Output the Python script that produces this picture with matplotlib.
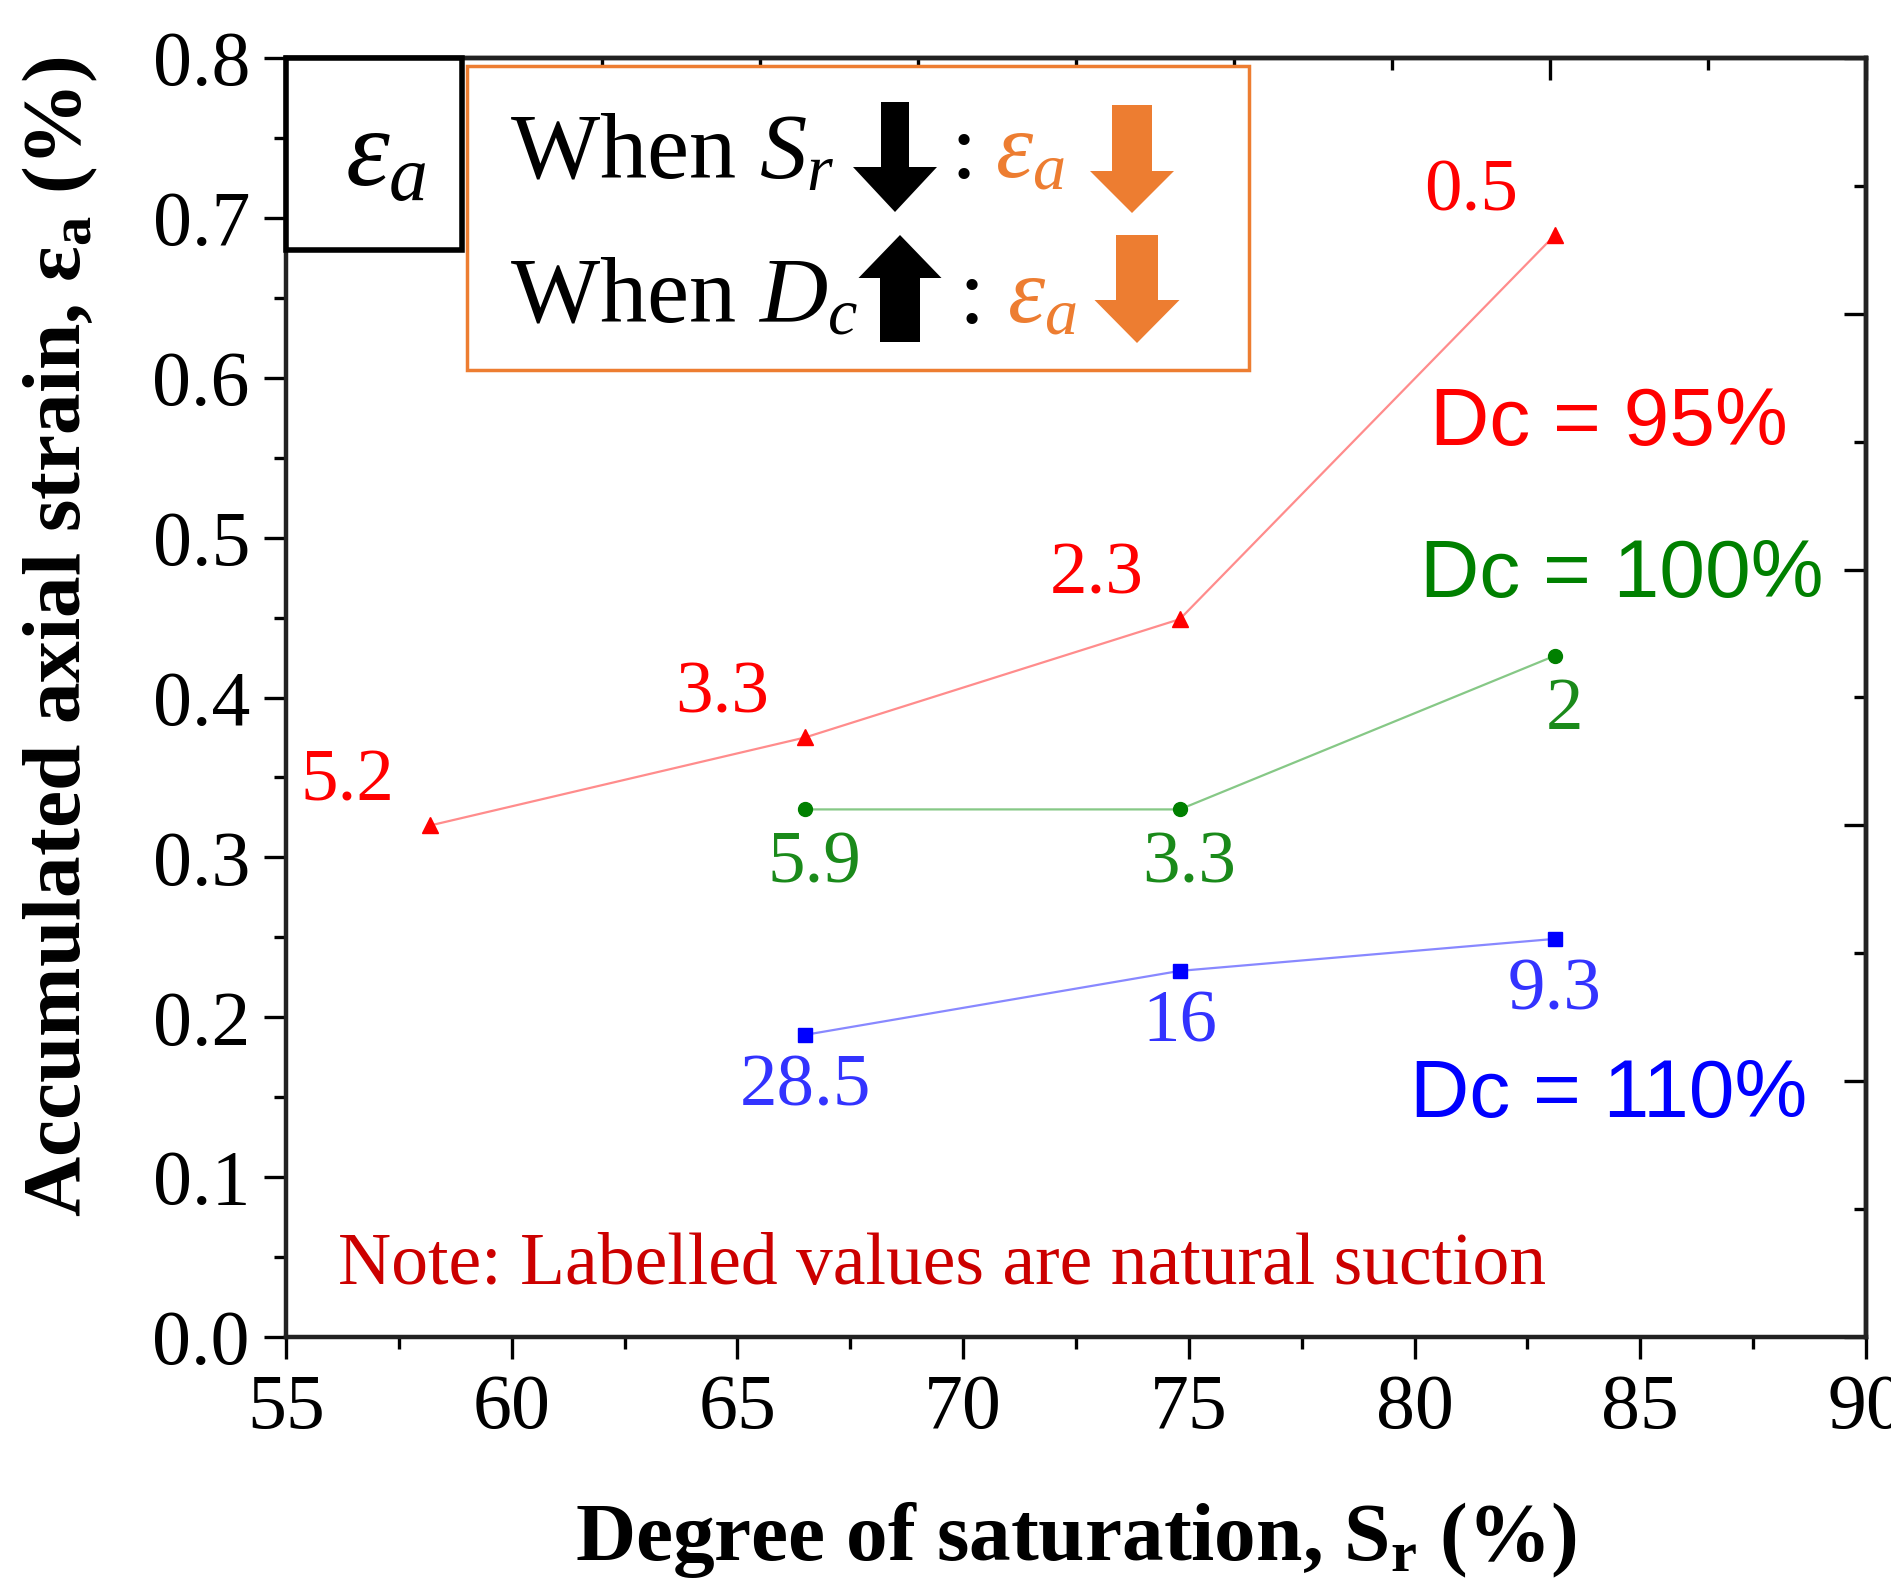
import matplotlib
matplotlib.use("Agg")
import matplotlib.pyplot as plt
from matplotlib.patches import Rectangle, FancyArrow
from matplotlib.ticker import MultipleLocator, FormatStrFormatter, NullFormatter

plt.rcParams['font.family'] = ['Liberation Serif', 'DejaVu Serif']
plt.rcParams['mathtext.fontset'] = 'custom'
plt.rcParams['mathtext.rm'] = 'Liberation Serif'
plt.rcParams['mathtext.it'] = 'Liberation Serif:italic'
plt.rcParams['mathtext.bf'] = 'Liberation Serif:bold'

# degree of saturation Sr (%)
sr_95 = [58.2, 66.5, 74.8, 83.1]
sr_100 = [66.5, 74.8, 83.1]
sr_110 = [66.5, 74.8, 83.1]
# accumulated axial strain (%)
ea_95 = [0.320, 0.375, 0.449, 0.689]
ea_100 = [0.330, 0.330, 0.426]
ea_110 = [0.189, 0.229, 0.249]
# labelled natural suction
suc_95 = ['5.2', '3.3', '2.3', '0.5']
suc_100 = ['5.9', '3.3', '2']
suc_110 = ['28.5', '16', '9.3']

ORANGE = '#ED7D31'

fig = plt.figure(figsize=(18.91, 15.82), dpi=100)
ax = fig.add_axes([286/1891, 1-1337/1582, 1580/1891, 1279/1582])

# Dc = 95%
ax.plot(sr_95, ea_95, color='#ff8c8c', lw=1.6, marker='^', ms=11,
        mfc='red', mec='red', zorder=3)
for x, y, s in zip(sr_95, ea_95, suc_95):
    ax.annotate(s, (x, y), xytext=(-60, 31), textcoords='offset points',
                ha='center', va='center', color='red', fontsize=54)
# Dc = 100%
ax.plot(sr_100, ea_100, color='#86c886', lw=1.6, marker='o', ms=10,
        mfc='#008000', mec='#008000', zorder=3)
for x, y, s in zip(sr_100, ea_100, suc_100):
    ax.annotate(s, (x, y), xytext=(7, -40), textcoords='offset points',
                ha='center', va='center', color='#1a8a1a', fontsize=54)
# Dc = 110%
ax.plot(sr_110, ea_110, color='#8888ff', lw=1.6, marker='s', ms=10,
        mfc='blue', mec='blue', zorder=3)
for x, y, s in zip(sr_110, ea_110, suc_110):
    ax.annotate(s, (x, y), xytext=(0, -38), textcoords='offset points',
                ha='center', va='center', color='#3333ff', fontsize=54)

ax.text(84.3, 0.571, 'Dc = 95%', family='Liberation Sans', fontsize=59,
        color='red', ha='center', va='center')
ax.text(84.6, 0.476, 'Dc = 100%', family='Liberation Sans', fontsize=59,
        color='#008000', ha='center', va='center')
ax.text(84.3, 0.151, 'Dc = 110%', family='Liberation Sans', fontsize=59,
        color='blue', ha='center', va='center')
ax.text(56.15, 0.044, 'Note: Labelled values are natural suction',
        color='#cc0000', fontsize=53, va='center')

ax.set_xlim(55, 90)
ax.set_ylim(0, 0.8)
ax.xaxis.set_major_locator(MultipleLocator(5))
ax.xaxis.set_minor_locator(MultipleLocator(2.5))
ax.yaxis.set_major_locator(MultipleLocator(0.1))
ax.yaxis.set_minor_locator(MultipleLocator(0.05))
ax.yaxis.set_major_formatter(FormatStrFormatter('%.1f'))
ax.tick_params(which='major', direction='out', length=16, width=2.4,
               labelsize=56, pad=10, top=False, right=False)
ax.tick_params(which='minor', direction='out', length=8.5, width=2.4,
               top=False, right=False)
for sp in ax.spines.values():
    sp.set_linewidth(3.2)
    sp.set_color('#222222')

# top / right axes with their own 0-1 scale, ticks inward
top = ax.secondary_xaxis('top', functions=(lambda x: (x - 55) / 35,
                                            lambda u: 55 + 35 * u))
top.xaxis.set_major_locator(MultipleLocator(0.2))
top.xaxis.set_minor_locator(MultipleLocator(0.1))
top.xaxis.set_major_formatter(NullFormatter())
top.tick_params(which='major', direction='in', length=16, width=2.4)
top.tick_params(which='minor', direction='in', length=8.5, width=2.4)
top.spines['top'].set_linewidth(3.2)
top.spines['top'].set_color('#222222')

right = ax.secondary_yaxis('right', functions=(lambda y: y / 0.8,
                                                lambda u: u * 0.8))
right.yaxis.set_major_locator(MultipleLocator(0.2))
right.yaxis.set_minor_locator(MultipleLocator(0.1))
right.yaxis.set_major_formatter(NullFormatter())
right.tick_params(which='major', direction='in', length=16, width=2.4)
right.tick_params(which='minor', direction='in', length=8.5, width=2.4)
right.spines['right'].set_linewidth(3.2)
right.spines['right'].set_color('#222222')

# overlay in pixel coordinates for boxes and axis titles
ov = fig.add_axes([0, 0, 1, 1], zorder=5)
ov.set_xlim(0, 1891)
ov.set_ylim(1582, 0)
ov.axis('off')

ov.add_patch(Rectangle((286, 58), 176, 192, fc='white', ec='black', lw=4))
ov.text(386, 186, r'$\varepsilon_a$', fontsize=80, ha='center', va='baseline')

ov.add_patch(Rectangle((467, 66), 782, 304, fc='white', ec=ORANGE, lw=2.5))
ov.text(510, 178, r'When $S_r$', fontsize=68, va='baseline')
ov.add_patch(FancyArrow(895, 102, 0, 110, width=28, head_width=84,
                        head_length=45, length_includes_head=True,
                        color='black', lw=0))
ov.text(950, 178, ':', fontsize=68, va='baseline')
ov.text(995, 178, r'$\varepsilon_a$', fontsize=68, va='baseline', color=ORANGE)
ov.add_patch(FancyArrow(1132, 105, 0, 108, width=40, head_width=84,
                        head_length=42, length_includes_head=True,
                        color=ORANGE, lw=0))

ov.text(510, 323, r'When $D_c$', fontsize=68, va='baseline')
ov.add_patch(FancyArrow(900, 342, 0, -107, width=40, head_width=83,
                        head_length=43, length_includes_head=True,
                        color='black', lw=0))
ov.text(958, 323, ':', fontsize=68, va='baseline')
ov.text(1007, 323, r'$\varepsilon_a$', fontsize=68, va='baseline', color=ORANGE)
ov.add_patch(FancyArrow(1137, 235, 0, 108, width=42, head_width=85,
                        head_length=43, length_includes_head=True,
                        color=ORANGE, lw=0))

ov.text(60, 636, r'Accumulated axial strain, ε$_{\mathbf{a}}$ (%)',
        rotation=90, fontweight='bold', fontsize=60, ha='center', va='center')
ov.text(1076, 1540, r'Degree of saturation, S$_{\mathbf{r}}$ (%)',
        fontweight='bold', fontsize=60, ha='center', va='center')

fig.savefig('out.png', dpi=100)
